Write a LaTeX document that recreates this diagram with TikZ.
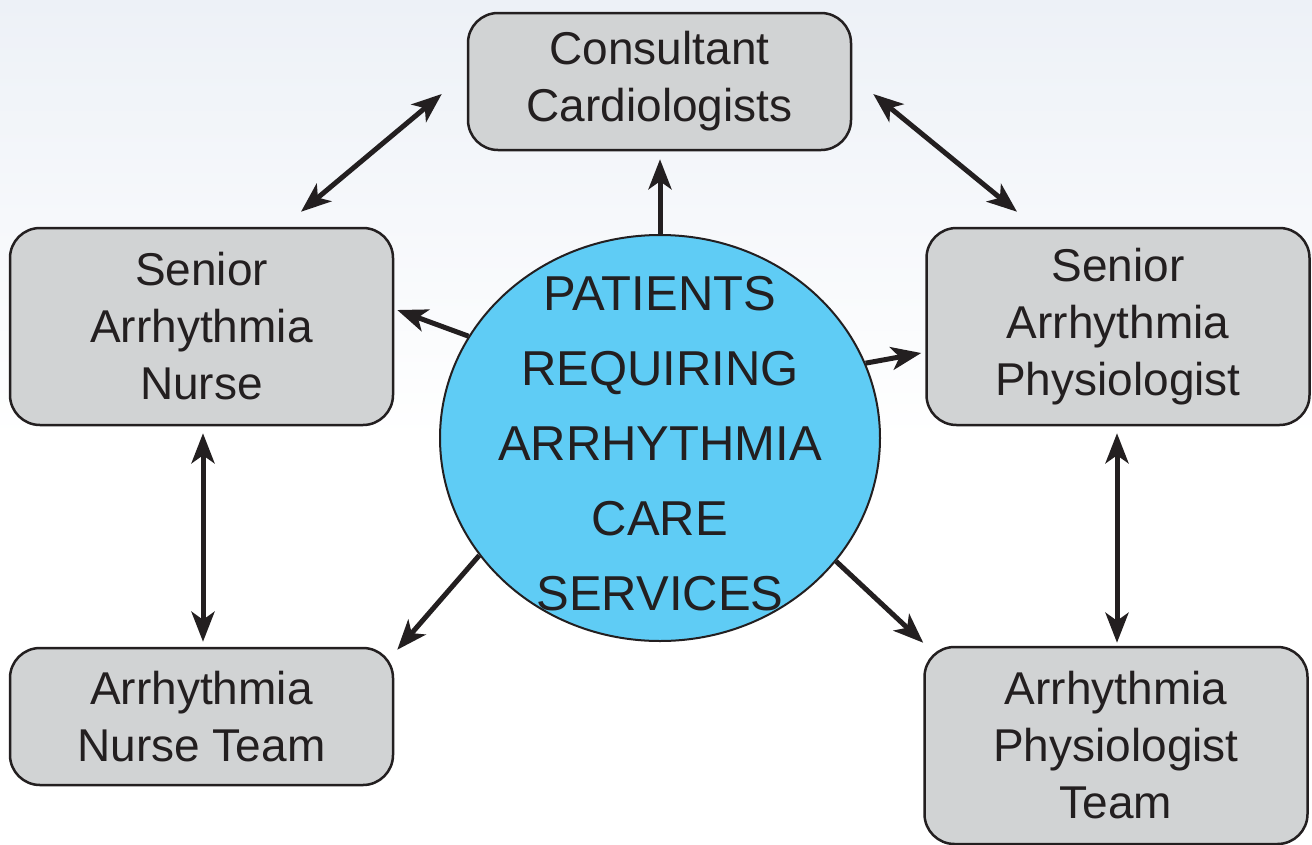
\documentclass[tikz,border=0pt]{standalone}
\usepackage{fontspec}
\setmainfont{Liberation Sans}
\usetikzlibrary{shapes.geometric,arrows.meta,calc}
\definecolor{boxgrey}{HTML}{D1D3D4}
\definecolor{hubblue}{HTML}{5FCCF5}
\definecolor{ink}{HTML}{231F20}
\definecolor{skytop}{HTML}{EDF1F7}
\begin{document}
\begin{tikzpicture}[x=1pt,y=-1pt,
	unit/.style={draw=ink,line width=2.5pt,fill=boxgrey,rounded corners=30pt,minimum width=383pt,inner sep=0pt,align=center,text=ink,font=\fontsize{46}{57}\selectfont},
	hub/.style={ellipse,draw=ink,line width=2pt,fill=hubblue,minimum width=440pt,minimum height=406pt,inner sep=0pt},
	hubtext/.style={inner sep=0pt,align=center,text=ink,font=\fontsize{49}{75}\selectfont},
	link/.style={draw=ink,line width=5pt,-{Stealth[length=30pt,width=23pt,inset=8pt]}},
	twoway/.style={link,{Stealth[length=30pt,width=23pt,inset=8pt]}-{Stealth[length=30pt,width=23pt,inset=8pt]}}]
				% background
				\useasboundingbox (0,0) rectangle (1312,844);
				\fill[white] (0,0) rectangle (1312,844);
				\shade[top color=skytop,bottom color=white] (0,0) rectangle (1312,440);
				% boxes
				\node[unit,minimum height=137pt] (cons) at (659.5,81.5) {Consultant\\Cardiologists};
				\node[unit,minimum height=197pt] (snurse) at (201.5,326.5) {Senior\\Arrhythmia\\Nurse};
				\node[unit,minimum height=197pt] (sphys) at (1118,326.5) {Senior\\Arrhythmia\\Physiologist};
				\node[unit,minimum height=137pt] (nteam) at (201.5,716.5) {Arrhythmia\\Nurse Team};
				\node[unit,minimum height=197pt] (pteam) at (1116,745.5) {Arrhythmia\\Physiologist\\Team};
				\node[hub] (patients) at (660,438) {};
				\node[hubtext] (patientstext) at (660,444) {PATIENTS\\REQUIRING\\ARRHYTHMIA\\CARE\\SERVICES};
				% arrows
				\draw[twoway] ($(snurse.north)+(99.5,-15)$) -- ($(cons.west)+(-25,12.5)$);
				\draw[twoway] ($(cons.east)+(21,12.5)$) -- ($(sphys.north)+(-101,-15)$);
				\draw[link] (patients.north) -- ($(cons.south)+(0.5,8)$);
				\draw[link] (patients.152) -- ($(snurse.east)+(3,-16.5)$);
				\draw[link] (patients.20) -- ($(sphys.west)+(-4,26.5)$);
				\draw[link] (patients.213) -- ($(nteam.north east)+(3,3)$);
				\draw[link] (patients.-35) -- ($(pteam.north west)+(0,-3)$);
				\draw[twoway] ($(snurse.south)+(1.5,7)$) -- ($(nteam.north)+(1.5,-5)$);
				\draw[twoway] ($(sphys.south)+(-1,7)$) -- ($(pteam.north)+(1,-3)$);
\end{tikzpicture}
\end{document}
